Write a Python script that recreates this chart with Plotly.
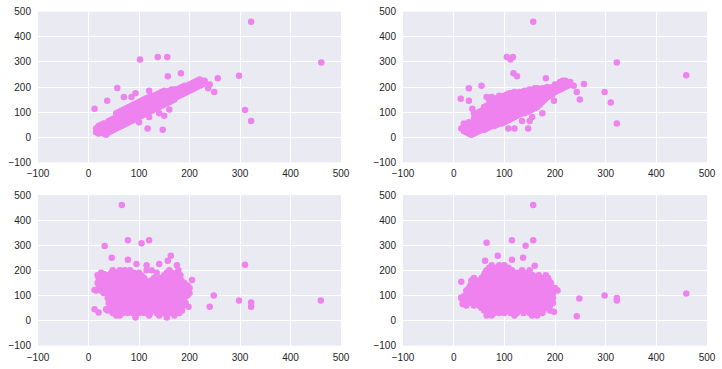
import plotly.graph_objects as go

# ---------------- data ----------------
# Columns: (x, [y values at that x])
tl_band = [
    (15, [20, 35]), (20, [15, 30, 45]), (25, [20, 35, 50]), (30, [15, 30, 45, 55]),
    (35, [10, 25, 40, 55]), (40, [20, 35, 50, 65]), (45, [25, 40, 55, 70]),
    (50, [30, 45, 60, 75]), (55, [35, 50, 65, 80, 95]), (60, [40, 55, 70, 85, 100]),
    (65, [45, 60, 75, 90, 105]), (70, [50, 65, 80, 95, 110]), (75, [55, 70, 85, 100, 115]),
    (80, [60, 75, 90, 105, 120]), (85, [65, 80, 95, 110, 125]), (90, [70, 85, 100, 115, 130]),
    (95, [75, 90, 105, 120, 135]), (100, [80, 95, 110, 125, 140]),
    (105, [85, 100, 115, 130, 145]), (110, [90, 105, 120, 135, 150]),
    (115, [95, 110, 125, 140, 155]), (120, [100, 115, 130, 145, 160]),
    (125, [105, 120, 135, 150, 165]), (130, [110, 125, 140, 155, 165]),
    (135, [115, 130, 145, 160, 170]), (140, [120, 135, 150, 165, 175]),
    (145, [125, 140, 155, 170, 180]), (150, [130, 145, 160, 175, 185]),
    (155, [135, 150, 165, 180]), (160, [140, 155, 170, 185]), (165, [145, 160, 175, 190]),
    (170, [150, 165, 180, 190]), (175, [160, 175, 190]), (180, [165, 180, 195]),
    (185, [170, 185, 200]), (190, [175, 190, 205]), (195, [180, 195, 205]),
    (200, [185, 200, 210]), (205, [190, 205, 215]), (210, [195, 210, 220]),
    (215, [200, 215, 225]), (220, [205, 220, 230]), (225, [210, 225]), (230, [215, 225]),
]
tl_outliers = [
    (12, 113), (57, 196), (37, 145), (70, 160), (93, 175), (102, 310), (137, 320),
    (156, 320), (157, 243), (183, 255), (120, 185), (240, 210), (237, 195), (249, 180),
    (256, 235), (298, 245), (310, 108), (322, 65), (322, 460), (461, 298), (117, 35),
    (147, 30), (120, 80), (140, 95), (150, 85), (160, 110), (100, 60), (85, 160),
]

tr_band = [
    (15, [35]), (20, [25, 40, 55]), (25, [20, 35, 50]), (30, [15, 30, 45, 60]),
    (35, [10, 25, 40, 55]), (40, [15, 30, 45, 60, 75]), (45, [20, 35, 50, 65]),
    (50, [25, 40, 55, 70, 85, 100]), (55, [30, 45, 60, 75, 90, 105]),
    (60, [30, 45, 60, 75, 90, 105, 120]), (65, [35, 50, 65, 80, 95, 110, 125]),
    (70, [40, 55, 70, 85, 100, 115, 130, 150]), (75, [45, 60, 75, 90, 105, 120, 135]),
    (80, [45, 60, 75, 90, 105, 120, 135, 150]), (85, [50, 65, 80, 95, 110, 125, 140, 155]),
    (90, [55, 70, 85, 100, 115, 130, 145, 160]), (95, [55, 70, 85, 100, 115, 130, 145, 160]),
    (100, [60, 75, 90, 105, 120, 135, 150, 165]),
    (105, [65, 80, 95, 110, 125, 140, 155, 170]),
    (110, [70, 85, 100, 115, 130, 145, 160, 175]),
    (115, [75, 90, 105, 120, 135, 150, 165, 175]),
    (120, [80, 95, 110, 125, 140, 155, 170, 180]),
    (125, [85, 100, 115, 130, 145, 160, 175]), (130, [90, 105, 120, 135, 150, 165, 180]),
    (135, [95, 110, 125, 140, 155, 170, 180]), (140, [95, 110, 125, 140, 155, 170, 185]),
    (145, [100, 115, 130, 145, 160, 175, 185]),
    (150, [105, 120, 135, 150, 165, 180, 190]), (155, [110, 125, 140, 155, 170, 185]),
    (160, [115, 130, 145, 160, 175, 190]), (165, [120, 135, 150, 165, 180, 195]),
    (170, [130, 145, 160, 175, 190]), (175, [140, 155, 170, 185, 195]),
    (180, [150, 165, 180, 195]), (185, [160, 175, 190, 200]), (190, [165, 180, 195]),
    (195, [170, 185, 200]), (200, [180, 195, 210]), (205, [185, 200, 210]),
    (210, [190, 205, 220]), (215, [195, 210, 225]), (220, [200, 215, 225]),
    (225, [205, 220]), (230, [210, 220]),
]
tr_outliers = [
    (14, 153), (30, 195), (30, 145), (37, 113), (40, 95), (55, 205), (65, 160), (75, 160),
    (90, 165), (105, 320), (112, 310), (117, 320), (118, 255), (125, 243), (157, 460),
    (160, 195), (182, 235), (198, 145), (175, 95), (108, 35), (120, 35), (147, 35),
    (135, 65), (150, 65), (155, 80), (237, 205), (243, 180), (249, 150), (257, 212),
    (298, 180), (310, 138), (322, 298), (322, 55), (459, 247),
]

# Rows: (y, [x values at that y])
bl_blob = [
    (20, [55, 62, 93, 120, 140, 155, 170]),
    (30, [48, 58, 68, 78, 88, 100, 110, 122, 135, 148, 160, 172, 180]),
    (40, [38, 50, 60, 70, 80, 90, 100, 112, 125, 138, 150, 162, 175, 185]),
    (50, [42, 55, 65, 75, 85, 95, 105, 118, 130, 142, 155, 168, 180]),
    (60, [45, 58, 68, 78, 90, 100, 112, 125, 138, 150, 162, 175, 188]),
    (70, [40, 52, 62, 72, 84, 95, 107, 120, 132, 145, 157, 170, 182, 192]),
    (80, [45, 56, 66, 77, 88, 100, 112, 125, 137, 150, 162, 175, 186]),
    (90, [38, 50, 60, 70, 82, 94, 106, 118, 130, 142, 155, 168, 180, 190]),
    (100, [44, 54, 65, 76, 88, 100, 112, 124, 136, 148, 160, 172, 184, 196]),
    (110, [30, 40, 50, 60, 70, 82, 94, 106, 118, 130, 142, 154, 166, 178, 190, 200]),
    (120, [15, 25, 35, 46, 56, 66, 76, 88, 100, 112, 124, 136, 148, 160, 172, 184, 196]),
    (130, [20, 30, 40, 50, 60, 70, 82, 94, 106, 118, 130, 142, 154, 166, 178, 190, 200]),
    (140, [22, 33, 45, 55, 65, 76, 88, 100, 112, 124, 136, 148, 160, 172, 184, 196]),
    (150, [18, 28, 38, 50, 60, 70, 82, 94, 106, 118, 130, 142, 154, 166, 178, 190]),
    (160, [22, 35, 45, 55, 65, 76, 88, 100, 112, 124, 136, 148, 160, 172, 184]),
    (170, [20, 30, 42, 52, 62, 72, 84, 96, 110, 130, 142, 154, 166, 178]),
    (180, [18, 28, 38, 50, 60, 70, 80, 92, 105, 150, 160, 172, 182]),
    (190, [25, 45, 55, 65, 78, 90, 100, 135, 155, 165, 175]),
    (200, [48, 62, 72, 82, 115, 125, 160, 178]),
]
bl_outliers = [
    (66, 460), (32, 297), (78, 320), (120, 320), (105, 308), (46, 250), (78, 242),
    (163, 258), (157, 238), (175, 220), (140, 225), (95, 225), (115, 220), (310, 222),
    (298, 80), (322, 72), (322, 55), (460, 80), (248, 100), (240, 55), (198, 55),
    (205, 162), (12, 122), (12, 45), (20, 32), (93, 12), (155, 12), (35, 45), (30, 185),
]

br_blob = [
    (20, [65, 75, 120, 155, 165]),
    (30, [70, 80, 90, 100, 112, 125, 138, 150, 162, 175]),
    (40, [60, 70, 80, 92, 104, 116, 128, 140, 152, 164, 176, 190]),
    (50, [55, 65, 76, 88, 100, 112, 124, 136, 148, 160, 172, 184]),
    (60, [25, 40, 50, 60, 70, 82, 94, 106, 118, 130, 142, 154, 166, 178, 190]),
    (70, [18, 30, 45, 55, 65, 76, 88, 100, 112, 124, 136, 148, 160, 172, 184, 196]),
    (80, [22, 35, 48, 58, 70, 82, 94, 106, 118, 130, 142, 154, 166, 178, 190]),
    (90, [15, 28, 40, 52, 64, 76, 88, 100, 112, 124, 136, 148, 160, 172, 184, 196]),
    (100, [22, 34, 46, 58, 70, 82, 94, 106, 118, 130, 142, 154, 166, 178, 190]),
    (110, [28, 40, 52, 64, 76, 88, 100, 112, 124, 136, 148, 160, 172, 184, 196]),
    (120, [25, 36, 48, 60, 72, 84, 96, 108, 120, 132, 144, 156, 168, 180, 192, 205]),
    (130, [30, 42, 54, 66, 78, 90, 102, 114, 126, 138, 150, 162, 174, 186, 200]),
    (140, [33, 45, 57, 69, 81, 93, 105, 117, 129, 141, 153, 165, 177, 190]),
    (150, [36, 48, 60, 72, 84, 96, 108, 120, 132, 144, 156, 168, 180, 192]),
    (160, [35, 45, 56, 68, 80, 92, 104, 116, 128, 140, 152, 164, 176, 188]),
    (170, [40, 55, 66, 78, 90, 102, 114, 126, 138, 150, 162, 174, 186]),
    (180, [60, 72, 84, 96, 108, 120, 132, 144, 156, 168, 182]),
    (190, [62, 75, 88, 100, 112, 125, 140]),
    (200, [65, 78, 90, 102, 115]),
    (210, [70, 82, 95, 108]),
    (220, [75, 90, 100]),
]
br_outliers = [
    (157, 460), (65, 310), (115, 320), (157, 320), (142, 298), (87, 258), (137, 250),
    (115, 242), (160, 218), (62, 238), (150, 200), (135, 200), (248, 88), (298, 100),
    (322, 90), (322, 80), (459, 108), (243, 17), (198, 35), (15, 155), (15, 92), (18, 65),
]

tick_vals = [-100, 0, 100, 200, 300, 400, 500]
tick_text = ["\u2212100", "0", "100", "200", "300", "400", "500"]

# ---------------- build ----------------
def from_cols(cols, outs):
    xs, ys = [], []
    for x, yl in cols:
        for y in yl:
            xs.append(x); ys.append(y)
    for x, y in outs:
        xs.append(x); ys.append(y)
    return xs, ys

def from_rows(rows, outs):
    xs, ys = [], []
    for y, xl in rows:
        for x in xl:
            xs.append(x); ys.append(y)
    for x, y in outs:
        xs.append(x); ys.append(y)
    return xs, ys

panels = [
    from_cols(tl_band, tl_outliers),
    from_cols(tr_band, tr_outliers),
    from_rows(bl_blob, bl_outliers),
    from_rows(br_blob, br_outliers),
]

W, H = 722, 369
xdoms = [(38 / W, 341 / W), (403 / W, 707 / W)]
ydoms = [(1 - 162.3 / H, 1 - 11.7 / H), (1 - 345.7 / H, 1 - 195 / H)]

fig = go.Figure()
layout = dict(
    width=W, height=H, margin=dict(l=0, r=0, t=0, b=0, autoexpand=False),
    paper_bgcolor="white", plot_bgcolor="#EAEAF2", showlegend=False,
    font=dict(family="Liberation Sans, Arial, sans-serif", size=10, color="#262626"),
)
for i, (xs, ys) in enumerate(panels):
    r, c = divmod(i, 2)
    n = "" if i == 0 else str(i + 1)
    fig.add_trace(go.Scatter(
        x=xs, y=ys, mode="markers", xaxis="x" + n, yaxis="y" + n,
        marker=dict(size=6.5, color="#EE82EE", line=dict(width=0)),
        hoverinfo="skip",
    ))
    axcommon = dict(
        range=[-100, 500], tickvals=tick_vals, ticktext=tick_text,
        showgrid=True, gridcolor="white", gridwidth=1, zeroline=False,
        showline=False, ticks="", automargin=False,
        tickfont=dict(size=10, color="#262626"),
    )
    layout["xaxis" + n] = dict(axcommon, domain=xdoms[c], anchor="y" + n,
                               ticklabelstandoff=4)
    layout["yaxis" + n] = dict(axcommon, domain=ydoms[r], anchor="x" + n,
                               ticklabelstandoff=6)

fig.update_layout(**layout)
fig.write_html(
    "out.html",
    config={"displayModeBar": False},
    post_script="document.body.style.margin='0';document.body.style.padding='0';"
                "document.documentElement.style.overflow='hidden';",
)
